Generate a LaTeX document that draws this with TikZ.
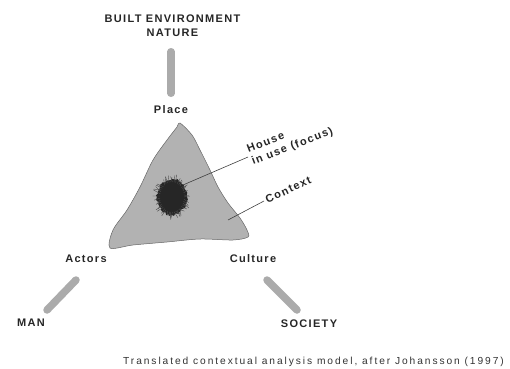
\documentclass[tikz,border=0pt]{standalone}
\usepackage{fontspec}
\setmainfont{Liberation Sans}
\newfontfamily\lblfont[LetterSpace=12]{Liberation Sans}
\newfontfamily\capfont[LetterSpace=19]{Liberation Sans}
\usetikzlibrary{decorations.pathmorphing,calc}

\tikzset{
  lbl/.style={font=\lblfont\bfseries\fontsize{11}{13}\selectfont, text=black!85, inner sep=2pt},
  capt/.style={font=\capfont\fontsize{10.2}{12}\selectfont, text=black!80},
  bar/.style={line width=7.5pt, line cap=round, draw=black!33},
  leader/.style={draw=black!75, line width=0.6pt},
}

\begin{document}
\begin{tikzpicture}[scale=1.000000,x=1pt,y=1pt]
\useasboundingbox (0,0) rectangle (510,368);
% corner labels
\node[lbl] (builtenv) at (172.5,349) {BUILT ENVIRONMENT};
\node[lbl] (nature) at (172.5,335) {NATURE};
\node[lbl] (place) at (171,258) {Place};
\node[lbl] (actors) at (86,109) {Actors};
\node[lbl] (culture) at (253,109) {Culture};
\node[lbl] (man) at (31,45) {MAN};
\node[lbl] (society) at (309,44) {SOCIETY};
% bars
\draw[bar, shorten <=18.75pt, shorten >=16.75pt] (place.center |- nature.center) -- (place.center);
\coordinate (manbar-a) at (76,88);
\coordinate (manbar-b) at (47,58);
\draw[bar] (manbar-a) -- (manbar-b);
\coordinate (socbar-a) at (267,88);
\coordinate (socbar-b) at (297,58);
\draw[bar] (socbar-a) -- (socbar-b);
% context blob
\draw[fill=black!30, draw=black!60, line width=0.5pt]
  plot[smooth cycle, tension=0.5] coordinates {
    (180,245) (192,233) (200,218) (210,198) (218,181) (228,165) (240,150)
    (247,138) (248,131) (233,128) (200,129) (167,126) (133,123) (110,120)
    (113,138) (127,158) (140,181) (153,208) (167,228) (177,241)};
% house in use (focus)
\pgfmathsetseed{7}
\fill[black!85, decorate, decoration={random steps, segment length=2pt, amplitude=1.2pt}]
  (172,171) ellipse (15 and 18);
\foreach \a in {0,8,...,352} {
  \draw[black!70, line width=0.4pt]
    ($(172,171)+(\a:12 and 15)$) -- ($(172,171)+(\a+rand*10:18+rand*2 and 21+rand*2)$);
}
\coordinate (focus) at (183,183);
\node[lbl, rotate=21, anchor=west, align=left] (house) at (248,211) {House\\in use (focus)};
\draw[leader] (focus) -- (house.west);
\coordinate (ctxpt) at (228,148);
\node[lbl, rotate=25, anchor=west] (context) at (264,167) {Context};
\draw[leader] (ctxpt) -- (context.west);
% caption
\node[capt] (caption) at (313.5,6) {Translated contextual analysis model, after Johansson (1997)};
\end{tikzpicture}
\end{document}
